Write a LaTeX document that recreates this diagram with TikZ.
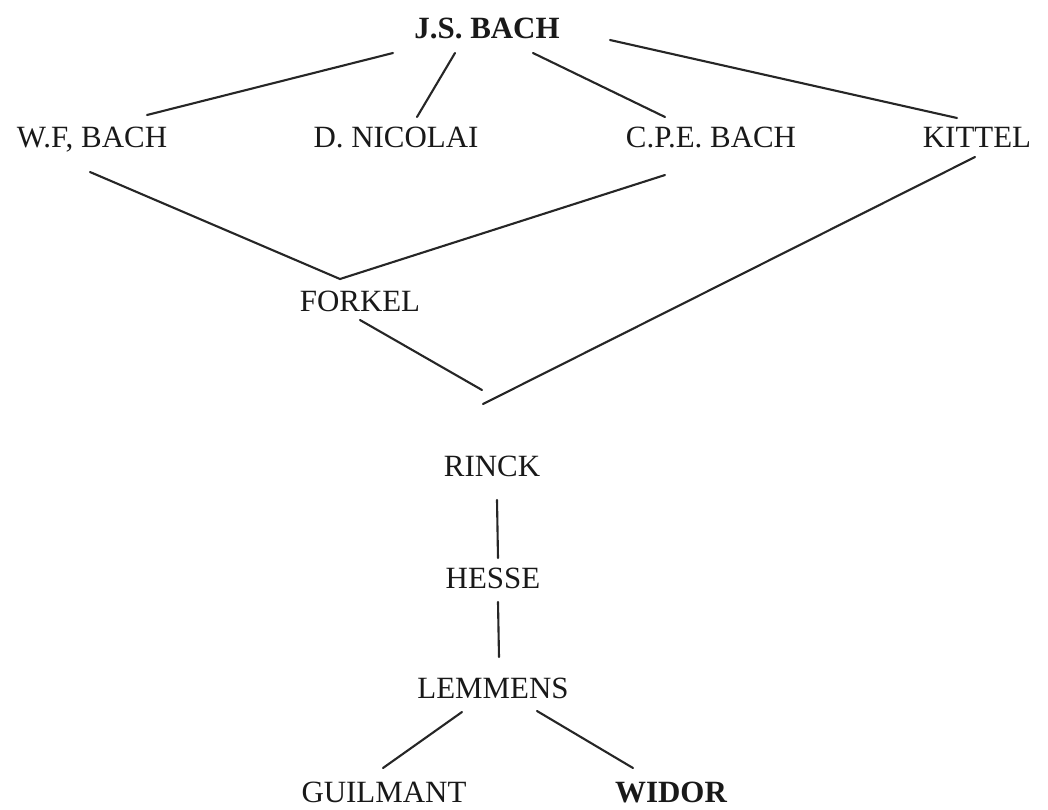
\documentclass[tikz,border=0pt]{standalone}
\usepackage{fontspec}
\setmainfont{Liberation Serif}
\usetikzlibrary{positioning}

\begin{document}
\begin{tikzpicture}[
    % Styles
    pupil/.style={font=\fontsize{22}{26}\selectfont, text=black!90, inner sep=0pt, text height=14.6pt, text depth=0pt, anchor=center},
    master/.style={pupil, font=\fontsize{22}{26}\selectfont\bfseries},
    link/.style={line width=1.5pt, black!85, line cap=round},
]

\useasboundingbox (0,0) rectangle (26.2,-20.225);

% Top
\node[master] (jsbach) at (12.175, -0.70) {J.S. BACH};

% Pupils of J.S. Bach
\node[pupil] (wfbach) at (2.30, -3.425) {W.F, BACH};
\node[pupil] (nicolai) at (9.90, -3.425) {D. NICOLAI};
\node[pupil] (cpebach) at (17.775, -3.425) {C.P.E. BACH};
\node[pupil] (kittel) at (24.425, -3.425) {KITTEL};
\draw[link] ([shift={(-2.35,-0.625)}]jsbach.center) -- ([shift={(1.375,0.55)}]wfbach.center);
\draw[link] ([shift={(-0.8,-0.625)}]jsbach.center) -- ([shift={(0.525,0.5)}]nicolai.center);
\draw[link] ([shift={(1.15,-0.625)}]jsbach.center) -- ([shift={(-1.15,0.5)}]cpebach.center);
\draw[link] ([shift={(3.075,-0.3)}]jsbach.center) -- ([shift={(-0.5,0.475)}]kittel.center);

% Forkel
\node[pupil] (forkel) at (9.0, -7.525) {FORKEL};
\draw[link] ([shift={(-0.05,-0.875)}]wfbach.center) -- ([shift={(-0.5,0.55)}]forkel.center)
    -- ([shift={(-1.15,-0.95)}]cpebach.center);

% Forkel and Kittel come together
\coordinate (merge) at (12.075, -10.1);
\draw[link] ([shift={(0,-0.475)}]forkel.center) -- ([shift={(-0.025,0.35)}]merge);
\draw[link] ([shift={(-0.05,-0.5)}]kittel.center) -- (merge);

% Rinck - Hesse - Lemmens
\node[pupil] (rinck) at (12.3, -11.65) {RINCK};
\node[pupil] (hesse) at (12.325, -14.45) {HESSE};
\node[pupil] (lemmens) at (12.325, -17.2) {LEMMENS};
\draw[link] ([shift={(0.125,-0.85)}]rinck.center) -- ([shift={(0.125,0.5)}]hesse.center);
\draw[link] ([shift={(0.125,-0.6)}]hesse.center) -- ([shift={(0.15,0.775)}]lemmens.center);

% Bottom
\node[pupil] (guilmant) at (9.6, -19.8) {GUILMANT};
\node[master] (widor) at (16.775, -19.8) {WIDOR};
\draw[link] ([shift={(-0.775,-0.6)}]lemmens.center) -- ([shift={(-0.025,0.6)}]guilmant.center);
\draw[link] ([shift={(1.1,-0.575)}]lemmens.center) -- ([shift={(-0.95,0.6)}]widor.center);

\end{tikzpicture}
\end{document}
